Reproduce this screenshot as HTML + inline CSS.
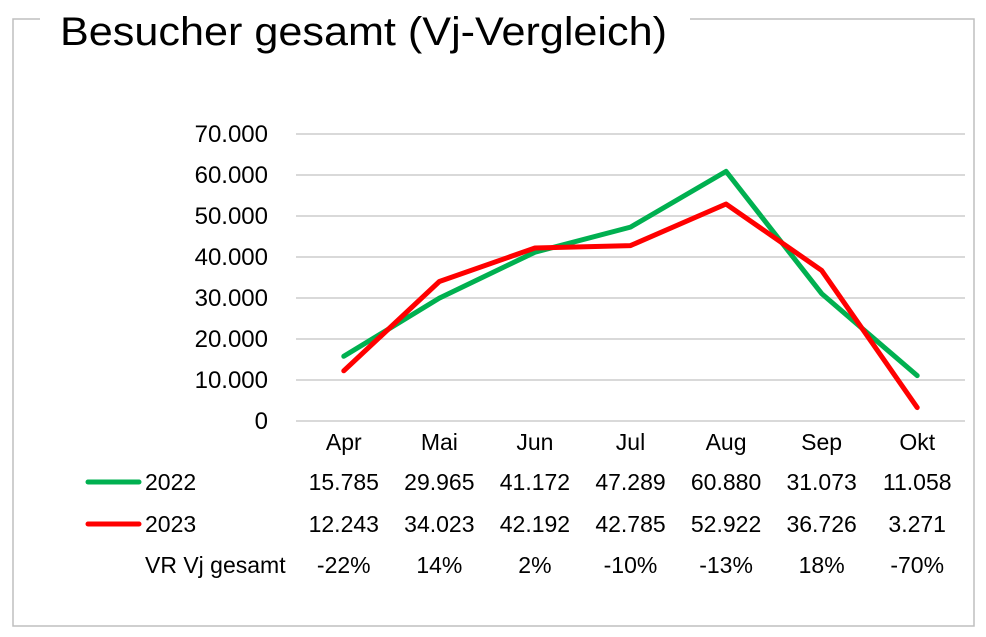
<!DOCTYPE html>
<html><head><meta charset="utf-8"><style>
html,body{margin:0;padding:0;background:#fff;}
svg{display:block;font-family:"Liberation Sans",Arial,sans-serif;}
</style></head><body>
<svg id="chart" width="986" height="637" viewBox="0 0 986 637">
<path d="M40 19 H13 V626 H974 V19 H690" fill="none" stroke="#bfbfbf" stroke-width="1.5"/>
<text x="60" y="45" font-size="40" textLength="607" lengthAdjust="spacingAndGlyphs" fill="#000">Besucher gesamt (Vj-Vergleich)</text>
<g id="grid"></g><g id="yticks"></g><g id="xlabels"></g><g id="lines"></g><g id="table"></g>
</svg>
<script>
const categories = ["Apr","Mai","Jun","Jul","Aug","Sep","Okt"];
const series2022 = [15785,29965,41172,47289,60880,31073,11058];
const series2023 = [12243,34023,42192,42785,52922,36726,3271];
const labels2022 = ["15.785","29.965","41.172","47.289","60.880","31.073","11.058"];
const labels2023 = ["12.243","34.023","42.192","42.785","52.922","36.726","3.271"];
const vrLabels = ["-22%","14%","2%","-10%","-13%","18%","-70%"];
const yTicks = [0,10000,20000,30000,40000,50000,60000,70000];
const yTickLabels = ["0","10.000","20.000","30.000","40.000","50.000","60.000","70.000"];

const NS="http://www.w3.org/2000/svg";
const x0=296,x1=965,yBase=421,yTop=134,yMax=70000;
const band=(x1-x0)/categories.length;
const xs=i=>x0+band*(i+0.5);
const ys=v=>yBase-(v/yMax)*(yBase-yTop);
function mk(tag,attrs,parent,text){const e=document.createElementNS(NS,tag);for(const k in attrs)e.setAttribute(k,attrs[k]);if(text!==undefined)e.textContent=text;document.getElementById(parent).appendChild(e);return e;}

yTicks.forEach((v,i)=>{
  const l=mk("line",{x1:x0,x2:x1,y1:ys(v),y2:ys(v),stroke:"#d9d9d9","stroke-width":2},"grid");
  
  
  const t=mk("text",{x:268,y:ys(v)+8,"font-size":24,"text-anchor":"end",fill:"#000"},"yticks",yTickLabels[i]);
  
  
});
categories.forEach((c,i)=>{
  const t=mk("text",{x:xs(i),y:450,"font-size":23,"text-anchor":"middle",fill:"#000"},"xlabels",c);
  
  
});
function drawLine(data,color,name){
  const pts=data.map((v,i)=>xs(i)+","+ys(v)).join(" ");
  const p=mk("polyline",{points:pts,fill:"none",stroke:color,"stroke-width":5,"stroke-linejoin":"round","stroke-linecap":"round"},"lines");
  
  
}
drawLine(series2022,"#00b050","line-2022");
drawLine(series2023,"#ff0000","line-2023");

const rows=[{y:482,label:"2022",vals:labels2022,color:"#00b050",n:"2022"},{y:524,label:"2023",vals:labels2023,color:"#ff0000",n:"2023"},{y:565,label:"VR Vj gesamt",vals:vrLabels,color:null,n:"vr"}];
rows.forEach(r=>{
  if(r.color){
    const k=mk("line",{x1:88,x2:139,y1:r.y,y2:r.y,stroke:r.color,"stroke-width":5,"stroke-linecap":"round"},"table");
    
    
  }
  const t=mk("text",{x:145,y:r.y+8,"font-size":23,fill:"#000"},"table",r.label);
  
  
  r.vals.forEach((v,i)=>{
    const c=mk("text",{x:xs(i),y:r.y+8,"font-size":23,"text-anchor":"middle",fill:"#000"},"table",v);
    
    
  });
});
</script>
</body></html>
